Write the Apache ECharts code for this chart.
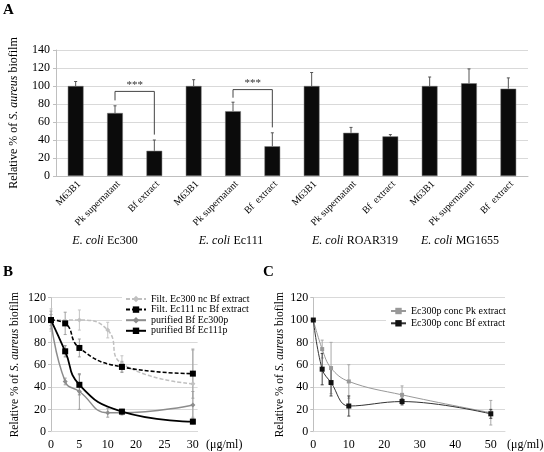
<!DOCTYPE html>
<html><head><meta charset="utf-8">
<script src="https://cdn.jsdelivr.net/npm/echarts@6/dist/echarts.min.js"></script>
<style>html,body{margin:0;padding:0;background:#fff}#c{width:544px;height:452px}</style>
</head><body><div id="c"></div>
<script>
// ---------- Panel A data ----------
const categoriesA = ['M63B1','Pk supernatant','Bf extract','M63B1','Pk supernatant','Bf  extract','M63B1','Pk supernatant','Bf  extract','M63B1','Pk supernatant','Bf  extract'];
const barValuesA = [100, 70, 28, 100, 72, 33, 100, 48, 44, 100, 103, 97];
const barErrTopA = [105, 78, 40, 107, 82, 48, 115, 54, 46, 110, 119, 109];
const strainsA = ['Ec300', 'Ec111', 'ROAR319', 'MG1655'];
// [left cat, right cat, top value, left leg end, right leg end]
const bracketsA = [[1, 2, 94, 84, 46], [4, 5, 96, 87, 54]];
const sigLabel = '***';

// ---------- Panel B data (x in axis units; tick labels below) ----------
const xTickValuesB = [0, 6, 12, 18, 24, 30];
const xTickLabelsB = ['0', '5', '10', '20', '25', '30'];
const xB_filt300 = [0, 6, 12, 15, 30];
const yB_filt300 = [100, 100, 91, 61, 43];
const eB_filt300 = [10, 9, 7, 7, 30];
const xB_filt111 = [0, 3, 6, 15, 30];
const yB_filt111 = [100, 97, 75, 58, 52];
const eB_filt111 = [5, 10, 8, 5, 22];
const xB_pur300 = [0, 3, 6, 12, 15, 30];
const yB_pur300 = [100, 45, 36, 17, 17, 24];
const eB_pur300 = [8, 3, 16, 4, 2, 12];
const xB_pur111 = [0, 3, 6, 15, 30];
const yB_pur111 = [100, 72, 42, 18, 9];
const eB_pur111 = [0, 5, 9, 2, 2];
const namesB = ['Filt. Ec300 nc Bf extract', 'Filt. Ec111 nc Bf extract', 'purified Bf Ec300p', 'purified Bf Ec111p'];

// ---------- Panel C data ----------
const xC = [0, 2.5, 5, 10, 25, 50];
const yC_pk = [100, 74, 57, 45, 33, 17];
const eC_pk = [0, 8, 23, 15, 8, 11];
const yC_bf = [100, 56, 44, 23, 27, 16];
const eC_bf = [0, 14, 12, 9, 3, 4];
const namesC = ['Ec300p conc Pk extract', 'Ec300p conc Bf extract'];

const F = 'Liberation Serif, Times New Roman, serif';
const pairs = (xs, ys) => xs.map((x, i) => [x, ys[i]]);
const triples = (xs, ys, es) => xs.map((x, i) => [x, ys[i], es[i]]);

function errRender(color) {
  return function (params, api) {
    const x = api.value(0), y = api.value(1), e = api.value(2);
    if (!e) return null;
    const t = api.coord([x, y + e]), b = api.coord([x, y - e]);
    const st = { stroke: color, lineWidth: 1 };
    return { type: 'group', children: [
      { type: 'line', shape: { x1: t[0], y1: t[1], x2: b[0], y2: b[1] }, style: st },
      { type: 'line', shape: { x1: t[0] - 1.5, y1: t[1], x2: t[0] + 1.5, y2: t[1] }, style: st },
      { type: 'line', shape: { x1: b[0] - 1.5, y1: b[1], x2: b[0] + 1.5, y2: b[1] }, style: st }
    ]};
  };
}
function errSeries(xi, xs, ys, es, color) {
  return { type: 'custom', xAxisIndex: xi, yAxisIndex: xi, data: triples(xs, ys, es),
    renderItem: errRender(color), silent: true, z: 1 };
}

const yTitle = '{n|Relative % of }{i|S. aureus}{n| biofilm}';
function yTitleStyle(size) {
  return { rich: { n: { fontFamily: F, fontSize: size, color: '#000' },
                   i: { fontFamily: F, fontSize: size, fontStyle: 'italic', color: '#000' } } };
}
const gridLine = { show: true, lineStyle: { color: '#d9d9d9', width: 1 } };
const axisLab = { fontFamily: F, fontSize: 12, color: '#000', margin: 5 };

const chart = echarts.init(document.getElementById('c'));
chart.setOption({
  animation: false,
  backgroundColor: '#fff',
  grid: [
    { left: 53, top: 50, width: 475, height: 126 },
    { left: 51, top: 297.7, width: 146.6, height: 134 },
    { left: 313.3, top: 297.7, width: 191.7, height: 134 }
  ],
  xAxis: [
    { type: 'category', gridIndex: 0, data: categoriesA,
      axisLine: { lineStyle: { color: '#bfbfbf' } }, axisTick: { show: false },
      axisLabel: { rotate: 45, interval: 0, fontFamily: F, fontSize: 10, color: '#000', margin: 3, verticalAlign: 'top' } },
    { type: 'value', gridIndex: 1, min: 0, max: 31, interval: 6,
      splitLine: { show: false }, axisLine: { show: true, lineStyle: { color: '#d9d9d9' } }, axisTick: { show: false },
      axisLabel: Object.assign({}, axisLab, { margin: 7, formatter: v => { const i = xTickValuesB.indexOf(v); return i >= 0 ? xTickLabelsB[i] : ''; } }) },
    { type: 'value', gridIndex: 2, min: 0, max: 54, interval: 10,
      splitLine: { show: false }, axisLine: { show: true, lineStyle: { color: '#d9d9d9' } }, axisTick: { show: false },
      axisLabel: Object.assign({}, axisLab, { margin: 7, formatter: v => (v <= 50 ? String(v) : '') }) }
  ],
  yAxis: [
    { type: 'value', gridIndex: 0, min: 0, max: 140, interval: 20, splitLine: gridLine,
      axisLine: { show: true, lineStyle: { color: '#bfbfbf' } }, axisTick: { show: true, length: 3, lineStyle: { color: '#bfbfbf' } },
      axisLabel: Object.assign({}, axisLab, { margin: 6 }),
      name: yTitle, nameLocation: 'middle', nameRotate: 90, nameGap: 36, nameTextStyle: yTitleStyle(12) },
    { type: 'value', gridIndex: 1, min: 0, max: 120, interval: 20, splitLine: gridLine,
      axisLine: { show: true, lineStyle: { color: '#bfbfbf' } }, axisTick: { show: true, length: 3, lineStyle: { color: '#bfbfbf' } },
      axisLabel: axisLab,
      name: yTitle, nameLocation: 'middle', nameRotate: 90, nameGap: 30, nameTextStyle: yTitleStyle(11.5) },
    { type: 'value', gridIndex: 2, min: 0, max: 120, interval: 20, splitLine: gridLine,
      axisLine: { show: true, lineStyle: { color: '#bfbfbf' } }, axisTick: { show: true, length: 3, lineStyle: { color: '#bfbfbf' } },
      axisLabel: axisLab,
      name: yTitle, nameLocation: 'middle', nameRotate: 90, nameGap: 25, nameTextStyle: yTitleStyle(11.5) }
  ],
  legend: [
    { data: namesB, orient: 'vertical', left: 122, top: 291, itemWidth: 20, itemHeight: 8, itemGap: 0.6,
      padding: [3, 4, 3, 3], backgroundColor: '#fff', selectedMode: false,
      textStyle: { fontFamily: F, fontSize: 10, lineHeight: 10, color: '#000' } },
    { data: namesC, orient: 'vertical', left: 386, top: 301, itemWidth: 15, itemHeight: 8, itemGap: 2.3,
      padding: [5, 4, 6, 4], backgroundColor: '#fff', selectedMode: false,
      textStyle: { fontFamily: F, fontSize: 10, lineHeight: 10, color: '#000' } }
  ],
  series: [
    // Panel A
    { type: 'bar', xAxisIndex: 0, yAxisIndex: 0, data: barValuesA, barWidth: '40%',
      itemStyle: { color: '#0b0b0b', borderColor: '#777', borderWidth: 0.5 } },
    { type: 'custom', xAxisIndex: 0, yAxisIndex: 0, silent: true, z: 3,
      data: barValuesA.map((v, i) => [i, v, barErrTopA[i]]),
      renderItem: (params, api) => {
        const i = api.value(0);
        const b = api.coord([i, api.value(1)]), t = api.coord([i, api.value(2)]);
        const st = { stroke: '#555', lineWidth: 1 };
        return { type: 'group', children: [
          { type: 'line', shape: { x1: b[0], y1: b[1], x2: t[0], y2: t[1] }, style: st },
          { type: 'line', shape: { x1: t[0] - 1.5, y1: t[1], x2: t[0] + 1.5, y2: t[1] }, style: st }
        ]};
      } },
    { type: 'custom', xAxisIndex: 0, yAxisIndex: 0, silent: true, z: 3, data: bracketsA,
      renderItem: (params, api) => {
        const L = api.coord([api.value(0), api.value(2)]), R = api.coord([api.value(1), api.value(2)]);
        const Lb = api.coord([api.value(0), api.value(3)]), Rb = api.coord([api.value(1), api.value(4)]);
        return { type: 'group', children: [
          { type: 'polyline', shape: { points: [[L[0], Lb[1]], [L[0], L[1]], [R[0], R[1]], [R[0], Rb[1]]] },
            style: { stroke: '#444', lineWidth: 1, fill: null } },
          { type: 'text', x: (L[0] + R[0]) / 2, y: L[1] - 1,
            style: { text: sigLabel, fontFamily: F, fontSize: 11, fill: '#333', align: 'center', verticalAlign: 'bottom' } }
        ]};
      } },
    // Panel B error bars
    errSeries(1, xB_filt300, yB_filt300, eB_filt300, '#c4c4c4'),
    errSeries(1, xB_filt111, yB_filt111, eB_filt111, '#a0a0a0'),
    errSeries(1, xB_pur300, yB_pur300, eB_pur300, '#a0a0a0'),
    errSeries(1, xB_pur111, yB_pur111, eB_pur111, '#8a8a8a'),
    // Panel B lines
    { name: namesB[0], type: 'line', xAxisIndex: 1, yAxisIndex: 1, data: pairs(xB_filt300, yB_filt300),
      smooth: 0.5, symbol: 'diamond', symbolSize: 5, color: '#c0c0c0',
      lineStyle: { color: '#c0c0c0', width: 1.5, type: [4, 2] }, itemStyle: { color: '#c0c0c0' }, z: 3 },
    { name: namesB[1], type: 'line', xAxisIndex: 1, yAxisIndex: 1, data: pairs(xB_filt111, yB_filt111),
      smooth: 0.5, symbol: 'rect', symbolSize: 6, color: '#000',
      lineStyle: { color: '#000', width: 1.6, type: [4, 2] }, itemStyle: { color: '#000' }, z: 4 },
    { name: namesB[2], type: 'line', xAxisIndex: 1, yAxisIndex: 1, data: pairs(xB_pur300, yB_pur300),
      smooth: 0.5, symbol: 'diamond', symbolSize: 5, color: '#8c8c8c',
      lineStyle: { color: '#8c8c8c', width: 1.5 }, itemStyle: { color: '#8c8c8c' }, z: 3 },
    { name: namesB[3], type: 'line', xAxisIndex: 1, yAxisIndex: 1, data: pairs(xB_pur111, yB_pur111),
      smooth: 0.5, symbol: 'rect', symbolSize: 6, color: '#000',
      lineStyle: { color: '#000', width: 1.8 }, itemStyle: { color: '#000' }, z: 4 },
    // Panel C
    errSeries(2, xC, yC_pk, eC_pk, '#a8a8a8'),
    errSeries(2, xC, yC_bf, eC_bf, '#444'),
    { name: namesC[0], type: 'line', xAxisIndex: 2, yAxisIndex: 2, data: pairs(xC, yC_pk),
      smooth: 0.4, symbol: 'rect', symbolSize: 4, color: '#999',
      lineStyle: { color: '#999', width: 1 }, itemStyle: { color: '#999' }, z: 3 },
    { name: namesC[1], type: 'line', xAxisIndex: 2, yAxisIndex: 2, data: pairs(xC, yC_bf),
      smooth: 0.4, symbol: 'rect', symbolSize: 5, color: '#111',
      lineStyle: { color: '#333', width: 1 }, itemStyle: { color: '#111' }, z: 4 }
  ],
  graphic: [
    { type: 'text', left: 3, top: 3, style: { text: 'A', fontFamily: F, fontSize: 15, fontWeight: 'bold', fill: '#000' } },
    { type: 'text', left: 3, top: 265, style: { text: 'B', fontFamily: F, fontSize: 15, fontWeight: 'bold', fill: '#000' } },
    { type: 'text', left: 263, top: 265, style: { text: 'C', fontFamily: F, fontSize: 15, fontWeight: 'bold', fill: '#000' } },
    ...strainsA.map((s, g) => ({ type: 'text', x: [105, 231, 355, 460][g], y: 241,
      style: { text: '{i|E. coli} {n|' + s + '}', align: 'center', verticalAlign: 'middle',
        rich: { i: { fontFamily: F, fontSize: 12, fontStyle: 'italic', fill: '#000' },
                n: { fontFamily: F, fontSize: 12, fill: '#000' } } } })),
    { type: 'text', x: 206, y: 445, style: { text: '(μg/ml)', fontFamily: F, fontSize: 12, fill: '#000', verticalAlign: 'middle' } },
    { type: 'text', x: 507, y: 445, style: { text: '(μg/ml)', fontFamily: F, fontSize: 12, fill: '#000', verticalAlign: 'middle' } }
  ]
});
</script>
</body></html>
